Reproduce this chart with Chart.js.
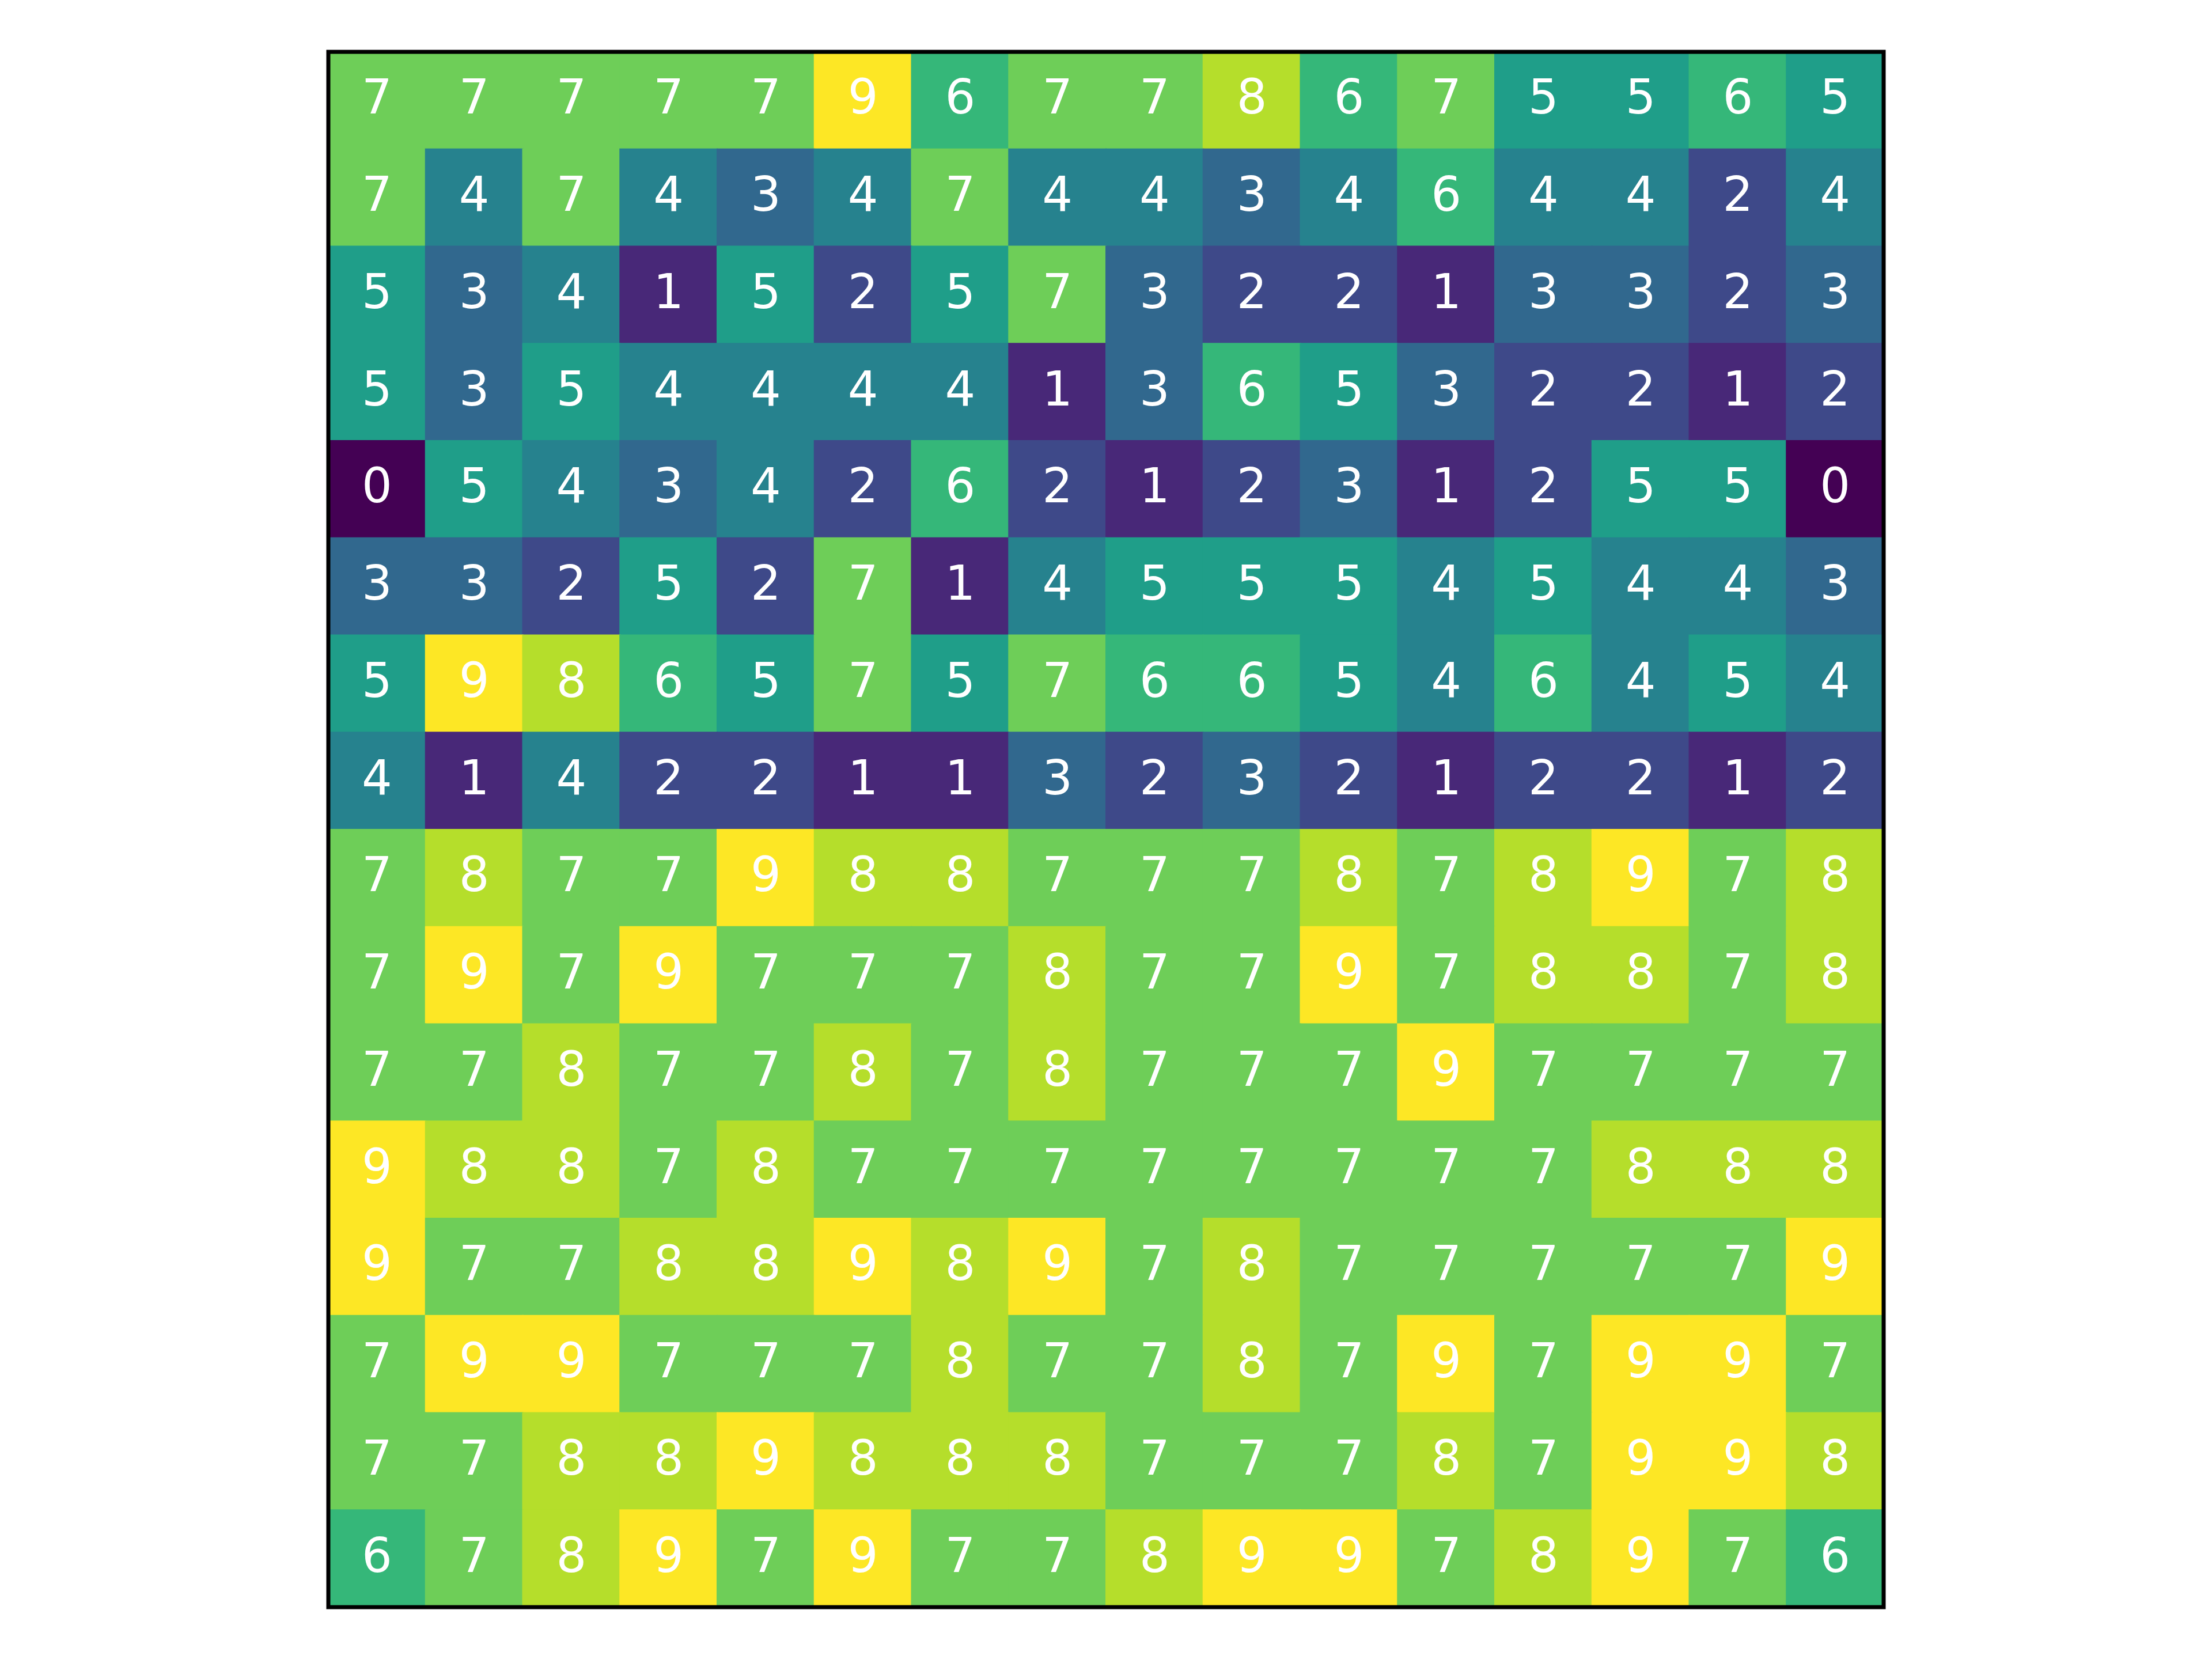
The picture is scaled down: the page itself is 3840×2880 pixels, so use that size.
<!DOCTYPE html>
<html>
<head>
<meta charset="utf-8">
<script src="https://cdn.jsdelivr.net/npm/chart.js@4/dist/chart.umd.min.js"></script>
<style>
  html, body { margin: 0; padding: 0; background: #fff; }
  #heat { display: block; }
</style>
</head>
<body>
<canvas id="heat" width="3840" height="2880" style="width:3840px;height:2880px"></canvas>
<script>
// 16 x 16 grid, rows listed from the top of the picture
const columns = ['0','1','2','3','4','5','6','7','8','9','10','11','12','13','14','15'];
const values = [
 [7,7,7,7,7,9,6,7,7,8,6,7,5,5,6,5],
 [7,4,7,4,3,4,7,4,4,3,4,6,4,4,2,4],
 [5,3,4,1,5,2,5,7,3,2,2,1,3,3,2,3],
 [5,3,5,4,4,4,4,1,3,6,5,3,2,2,1,2],
 [0,5,4,3,4,2,6,2,1,2,3,1,2,5,5,0],
 [3,3,2,5,2,7,1,4,5,5,5,4,5,4,4,3],
 [5,9,8,6,5,7,5,7,6,6,5,4,6,4,5,4],
 [4,1,4,2,2,1,1,3,2,3,2,1,2,2,1,2],
 [7,8,7,7,9,8,8,7,7,7,8,7,8,9,7,8],
 [7,9,7,9,7,7,7,8,7,7,9,7,8,8,7,8],
 [7,7,8,7,7,8,7,8,7,7,7,9,7,7,7,7],
 [9,8,8,7,8,7,7,7,7,7,7,7,7,8,8,8],
 [9,7,7,8,8,9,8,9,7,8,7,7,7,7,7,9],
 [7,9,9,7,7,7,8,7,7,8,7,9,7,9,9,7],
 [7,7,8,8,9,8,8,8,7,7,7,8,7,9,9,8],
 [6,7,8,9,7,9,7,7,8,9,9,7,8,9,7,6],
];
// viridis sampled at 0..9
const viridis = ['#440154','#482878','#3e4989','#31688e','#26828e','#1f9e89','#35b779','#6ece58','#b5de2b','#fde725'];

// stacked bars: dataset 0 is the bottom row
const datasets = [];
for (let k = 0; k < values.length; k++) {
  const row = values[values.length - 1 - k];
  datasets.push({
    label: 'row ' + (values.length - 1 - k),
    data: row.map(() => 1),
    cellValues: row,
    backgroundColor: row.map(v => viridis[v]),
    borderWidth: 0,
    inflateAmount: 1,
    barPercentage: 1,
    categoryPercentage: 1,
  });
}

const cellText = {
  id: 'cellText',
  afterDatasetsDraw(chart) {
    const ctx = chart.ctx;
    ctx.save();
    ctx.fillStyle = '#ffffff';
    ctx.font = '83px "DejaVu Sans"';
    ctx.textAlign = 'center';
    ctx.textBaseline = 'alphabetic';
    chart.data.datasets.forEach((ds, i) => {
      chart.getDatasetMeta(i).data.forEach((bar, j) => {
        const cy = (bar.y + bar.base) / 2;
        ctx.fillText(String(ds.cellValues[j]), bar.x, cy + 23);
      });
    });
    ctx.restore();
  }
};

const frame = {
  id: 'frame',
  afterDraw(chart) {
    const a = chart.chartArea;
    const ctx = chart.ctx;
    ctx.save();
    ctx.strokeStyle = '#000';
    ctx.lineWidth = 7;
    ctx.strokeRect(a.left, a.top, a.right - a.left, a.bottom - a.top);
    ctx.restore();
  }
};

const config = {
  type: 'bar',
  data: { labels: columns, datasets },
  options: {
    responsive: false,
    animation: false,
    layout: { padding: { left: 570, right: 570, top: 90, bottom: 90 } },
    plugins: { legend: { display: false }, tooltip: { enabled: false } },
    scales: {
      x: { stacked: true, display: false, grid: { display: false } },
      y: { stacked: true, display: false, min: 0, max: 16, grid: { display: false } },
    },
  },
  plugins: [cellText, frame],
};

const ctx = document.getElementById('heat').getContext('2d');
const heat = new Chart(ctx, config);
</script>
</body>
</html>
